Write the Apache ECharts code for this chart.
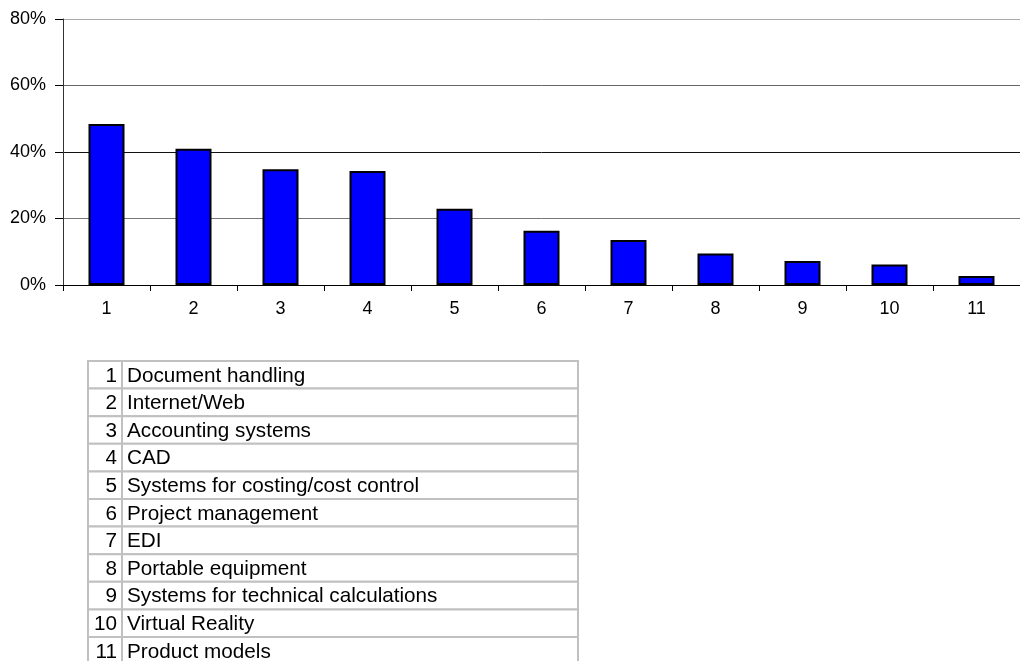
<!DOCTYPE html>
<html>
<head>
<meta charset="utf-8">
<script src="https://cdn.jsdelivr.net/npm/echarts@6/dist/echarts.min.js"></script>
<style>
html,body{margin:0;padding:0;background:#fff;}
#chart{width:1020px;height:661px;}
</style>
</head>
<body>
<div id="chart"></div>
<script>
var categories = ['1','2','3','4','5','6','7','8','9','10','11'];
var values = [48.4, 41.0, 34.8, 34.3, 22.9, 16.3, 13.5, 9.5, 7.2, 6.2, 2.7];
var yTicks = [0, 20, 40, 60, 80];
var itemNames = ['Document handling','Internet/Web','Accounting systems','CAD',
  'Systems for costing/cost control','Project management','EDI','Portable equipment',
  'Systems for technical calculations','Virtual Reality','Product models'];

var FONT = '"Liberation Sans", Arial, sans-serif';
var chart = echarts.init(document.getElementById('chart'), null, {renderer:'canvas'});

// legend table drawn with graphic elements
var tblLeft = 88, tblTop = 361, rowH = 27.6, colDiv = 122, tblRight = 578;
var graphics = [];
for (var i = 0; i < itemNames.length; i++) {
  var y = tblTop + i * rowH;
  graphics.push({type:'rect', shape:{x:tblLeft, y:y, width:tblRight-tblLeft, height:rowH},
    style:{fill:'#fff', stroke:'#c0c0c0', lineWidth:2}, z:1});
  graphics.push({type:'line', shape:{x1:colDiv, y1:y, x2:colDiv, y2:y+rowH},
    style:{stroke:'#c0c0c0', lineWidth:2}, z:2});
  graphics.push({type:'text', x:117, y:y+rowH/2+1,
    style:{text:categories[i], fill:'#000', font:'20.7px '+FONT, textAlign:'right', textVerticalAlign:'middle'}, z:3});
  graphics.push({type:'text', x:127, y:y+rowH/2+1,
    style:{text:itemNames[i], fill:'#000', font:'20.7px '+FONT, textAlign:'left', textVerticalAlign:'middle'}, z:3});
}

chart.setOption({
  animation:false,
  backgroundColor:'#fff',
  grid:{left:63, top:19, width:965, height:266, containLabel:false},
  xAxis:{
    type:'category', data:categories,
    axisLine:{lineStyle:{color:'#000', width:1}},
    axisTick:{show:true, alignWithLabel:false, length:6, lineStyle:{color:'#000'}},
    axisLabel:{color:'#000', fontSize:18, fontFamily:FONT, margin:15},
    splitLine:{show:false}
  },
  yAxis:{
    type:'value', min:yTicks[0], max:yTicks[yTicks.length-1], interval:20,
    axisLine:{show:true, lineStyle:{color:'#333', width:1}},
    axisTick:{show:true, length:8, lineStyle:{color:'#000'}},
    axisLabel:{color:'#000', fontSize:18, fontFamily:FONT, margin:17, formatter:'{value}%'},
    splitLine:{show:true, lineStyle:{color:['#000','#777','#111','#666','#aaa'], width:1}}
  },
  series:[{
    type:'bar', data:values, barWidth:36,
    itemStyle:{color:'#0000ff', borderColor:'#000', borderWidth:2}
  }],
  graphic:graphics
});
</script>
</body>
</html>
